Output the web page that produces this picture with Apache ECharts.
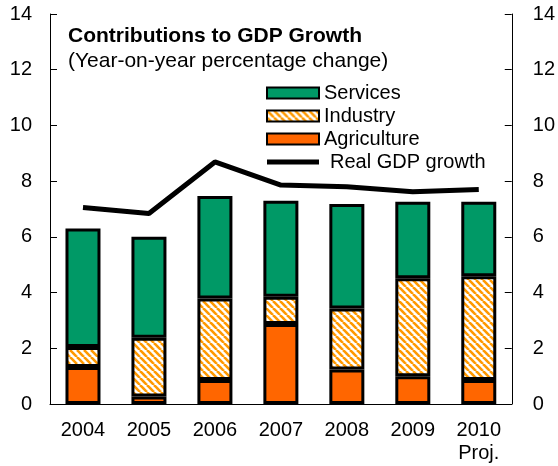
<!DOCTYPE html>
<html>
<head>
<meta charset="utf-8">
<script src="https://cdn.jsdelivr.net/npm/echarts@6/dist/echarts.min.js"></script>
<style>
  html, body { margin: 0; padding: 0; background: #fff; }
  #chart { width: 558px; height: 466px; }
</style>
</head>
<body>
<div id="chart"></div>
<script>
// Contributions to GDP growth, percentage points
const years = ['2004', '2005', '2006', '2007', '2008', '2009', '2010\nProj.'];
const agriculture = [1.33, 0.27, 0.86, 2.87, 1.24, 1.00, 0.86];
const industry    = [0.72, 2.11, 2.93, 0.98, 2.19, 3.51, 3.73];
const services    = [4.25, 3.62, 3.68, 3.45, 3.75, 2.75, 2.67];
const realGdp     = [7.05, 6.84, 8.69, 7.86, 7.80, 7.62, 7.70];
const yTicks = [0, 2, 4, 6, 8, 10, 12, 14];

const FONT = '"Liberation Sans", Arial, sans-serif';

// Diagonal orange hatching for the industry segments
function hatch() {
  const s = 7;
  const c = document.createElement('canvas');
  c.width = s; c.height = s;
  const g = c.getContext('2d');
  g.fillStyle = '#ffffff';
  g.fillRect(0, 0, s, s);
  g.strokeStyle = '#FF9900';
  g.lineWidth = 2.6;
  for (const off of [-s, 0, s]) {
    g.beginPath();
    g.moveTo(off, 0);
    g.lineTo(off + s, s);
    g.stroke();
  }
  return { image: c, repeat: 'repeat' };
}

const chart = echarts.init(document.getElementById('chart'), null, { renderer: 'canvas' });

const border = { borderColor: '#000', borderWidth: 3 };
const yAxisCommon = {
  type: 'value',
  min: yTicks[0],
  max: yTicks[yTicks.length - 1],
  interval: 2,
  splitLine: { show: false },
  axisLine: { show: true, lineStyle: { color: '#000', width: 1 } },
  axisTick: { show: true, inside: true, length: 7, lineStyle: { color: '#000' } },
  axisLabel: { color: '#000', fontSize: 20, fontFamily: FONT, margin: 18 }
};

chart.setOption({
  animation: false,
  backgroundColor: '#fff',
  title: {
    text: 'Contributions to GDP Growth',
    subtext: '(Year-on-year percentage change)',
    left: 63,
    top: 20,
    itemGap: 2,
    textStyle: { fontSize: 21, fontWeight: 'bold', color: '#000', fontFamily: FONT, lineHeight: 23 },
    subtextStyle: { fontSize: 21, color: '#000', fontFamily: FONT, lineHeight: 23 }
  },
  legend: {
    orient: 'vertical',
    left: 261,
    top: 78,
    itemWidth: 52,
    itemHeight: 11,
    itemGap: 3,
    textStyle: { fontSize: 20, color: '#000', fontFamily: FONT, lineHeight: 20 },
    data: [
      { name: 'Services', icon: 'rect' },
      { name: 'Industry', icon: 'rect' },
      { name: 'Agriculture', icon: 'rect' },
      {
        name: 'Real GDP growth',
        icon: 'path://M0,0 H52 V5 H0 Z',
        itemStyle: { color: '#000', borderWidth: 0 },
        textStyle: { padding: [0, 0, 0, 6] }
      }
    ]
  },
  grid: { left: 50, right: 43, top: 14, bottom: 62, containLabel: false },
  xAxis: {
    type: 'category',
    data: years,
    boundaryGap: true,
    axisLine: { lineStyle: { color: '#000', width: 1 } },
    axisTick: { inside: true, length: 5, lineStyle: { color: '#000' } },
    axisLabel: { color: '#000', fontSize: 20, fontFamily: FONT, margin: 15, lineHeight: 23 }
  },
  yAxis: [
    Object.assign({}, yAxisCommon, { position: 'left' }),
    Object.assign({}, yAxisCommon, {
      position: 'right',
      axisLabel: Object.assign({}, yAxisCommon.axisLabel, { margin: 21 })
    })
  ],
  series: [
    {
      name: 'Agriculture', type: 'bar', stack: 'gdp', data: agriculture,
      barWidth: 35,
      itemStyle: Object.assign({ color: '#FF6600' }, border)
    },
    {
      name: 'Industry', type: 'bar', stack: 'gdp', data: industry,
      barWidth: 35,
      itemStyle: Object.assign({ color: hatch() }, border)
    },
    {
      name: 'Services', type: 'bar', stack: 'gdp', data: services,
      barWidth: 35,
      itemStyle: Object.assign({ color: '#009966' }, border)
    },
    {
      name: 'Real GDP growth', type: 'line', data: realGdp,
      symbol: 'none',
      lineStyle: { color: '#000', width: 5 },
      itemStyle: { color: '#000' },
      z: 5
    }
  ]
});
</script>
</body>
</html>
